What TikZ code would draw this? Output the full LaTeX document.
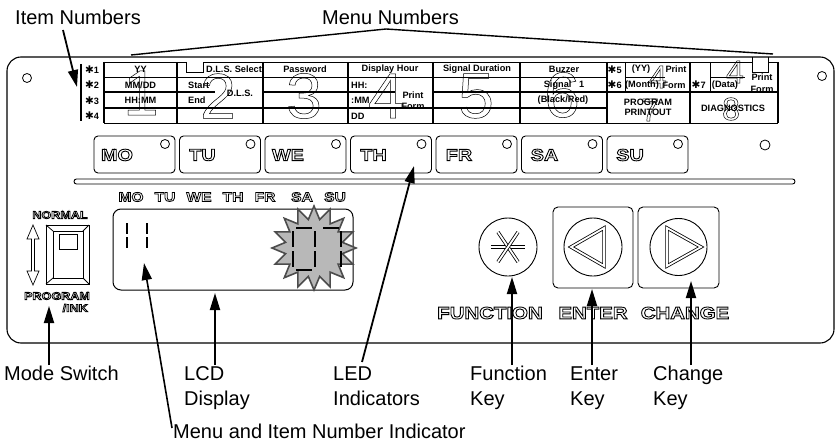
\documentclass[tikz,border=0pt]{standalone}
\usepackage{fontspec}
\setmainfont{Liberation Sans}
\newfontfamily\dejavu{DejaVu Sans}
\newfontfamily\widefont[FakeStretch=1.2]{Liberation Sans}
\newcommand\hollowtext[2]{\special{pdf:literal direct 1 Tr #1 w}#2\special{pdf:literal direct 0 Tr}}
\usetikzlibrary{arrows.meta}
\begin{document}
\begin{tikzpicture}[x=1pt,y=-1pt,
  every node/.style={inner sep=0pt},
  lab/.style={font=\fontsize{20}{24}\selectfont, anchor=base west},
  cell/.style={font=\bfseries\fontsize{9.2}{10.5}\selectfont, align=center},
  gthin/.style={line width=0.8pt},
  gthick/.style={line width=1.6pt},
  callout/.style={line width=1.8pt, -{Triangle[length=17pt,width=10pt]}},
  dayt/.style={font=\widefont\bfseries\fontsize{16.5}{16.5}\selectfont},
  lcdt/.style={font=\widefont\bfseries\fontsize{13}{13}\selectfont},
  swt/.style={font=\widefont\bfseries\fontsize{10.5}{11}\selectfont},
  keyt/.style={font=\widefont\bfseries\fontsize{17}{17}\selectfont},
  bigd/.style={font=\fontsize{64}{64}\selectfont},
  smalld/.style={font=\fontsize{32}{32}\selectfont},
  seg/.style={line width=2.3pt},
  dbl/.style={double=white, double distance=1.8pt, line width=0.8pt}
]
\useasboundingbox (0,0) rectangle (840,444);

% panel
\draw[line width=1.1pt, rounded corners=14pt] (7,57) rectangle (834,343);
\draw[line width=0.8pt] (27,78) circle (4.5);
\draw[line width=0.8pt] (822,76) circle (4.5);
\draw[line width=0.8pt] (765,145) circle (5);

% titles and bracket
\node[lab] (itemlab) at (15,25) {Item Numbers};
\node[lab] (menulab) at (322,25) {Menu Numbers};
\coordinate (brL) at (131,55);
\coordinate (brA) at (386,29);
\coordinate (brR) at (773,54);
\draw[line width=1.4pt] (brL) -- (brA) -- (brR);
\coordinate (itemstart) at (63,30);
\coordinate (itemtip) at (77,87);
\draw[callout] (itemstart) -- (itemtip);
\draw[line width=2.6pt] (81,64) -- (81,121);

% grid
\draw[gthin] (104,62) -- (186,62) (203,62) -- (752,62) (768,62) -- (778,62);
\draw[gthin] (186,62) -- (186,72) -- (203,72) -- (203,62);
\draw[gthin] (752,57) -- (752,72) -- (768,72) -- (768,57);
\foreach \x in {104,177,263,348,433,520,607,690,778}
  \draw[gthick] (\x,62) -- (\x,123);
\draw[gthin] (625,62) -- (625,92) (710,62) -- (710,92);
\draw[gthin] (104,77) -- (607,77);
\draw[gthick] (104,92) -- (215,92) (263,92) -- (395,92) (433,92) -- (778,92);
\draw[gthick] (104,108) -- (607,108);
\draw[gthin] (104,123) -- (778,123);
\draw[gthin] (625,77) -- (665,77) (710,77) -- (745,77);

% item labels
\foreach \k/\y in {1/69.5,2/85,3/100.5,4/116}
  \node[cell, anchor=west] (it\k) at (85,\y) {{\dejavu\fontsize{10.5}{10.5}\selectfont ✱}\k};
\node[cell, anchor=west] (it5) at (607.5,69.5) {{\dejavu\fontsize{10.5}{10.5}\selectfont ✱}5};
\node[cell, anchor=west] (it6) at (607.5,85) {{\dejavu\fontsize{10.5}{10.5}\selectfont ✱}6};
\node[cell, anchor=west] (it7) at (691.5,85) {{\dejavu\fontsize{10.5}{10.5}\selectfont ✱}7};

% cell texts
\node[cell] (c11) at (140.5,69.5) {YY};
\node[cell] (c12) at (140.5,85) {MM/DD};
\node[cell] (c13) at (140.5,100.5) {HH:MM};
\node[cell] (c21) at (234,69.5) {D.L.S. Select};
\node[cell, anchor=west] (c22) at (188,85) {Start};
\node[cell, anchor=west] (c23) at (188,100.5) {End};
\node[cell] (c2r) at (240,93) {D.L.S.};
\node[cell] (c31) at (305,69.5) {Password};
\node[cell] (c41) at (390,69.5) {Display Hour};
\node[cell, anchor=west] (c42) at (351,85) {HH:};
\node[cell, anchor=west] (c43) at (351,100.5) {:MM};
\node[cell, anchor=west] (c44) at (351,116) {DD};
\node[cell] (c4r) at (413,100.5) {Print\\Form};
\node[cell] (c51) at (477,69.5) {Signal Duration};
\node[cell] (c61) at (564,69.5) {Buzzer};
\node[cell] (c62) at (564,85) {Signal\ \ \ 1};
\node[cell] (c63) at (563,100.5) {(Black/Red)};
\node[cell] (ca1) at (641,69.5) {(YY)};
\node[cell] (ca2) at (642,85) {(Month)};
\node[cell] (ca3) at (676,69.5) {Print};
\node[cell] (ca4) at (674,85) {Form};
\node[cell] (cb1) at (725,85) {(Data)};
\node[cell] (cb2) at (762,77) {Print};
\node[cell] (cb3) at (762,89) {Form};
\node[cell] (cpp) at (648,107.5) {PROGRAM\\PRINTOUT};
\node[cell] (cdg) at (733,108) {DIAGNOSTICS};

% big menu digits (hollow, on top)
\node[bigd] (d1) at (141,93) {\hollowtext{0.5}{1}};
\node[bigd] (d2) at (218,96) {\hollowtext{0.5}{2}};
\node[bigd] (d3) at (304,96) {\hollowtext{0.5}{3}};
\node[bigd] (d4) at (386,96) {\hollowtext{0.5}{4}};
\node[bigd] (d5) at (476,96) {\hollowtext{0.5}{5}};
\node[bigd] (d6) at (562,95) {\hollowtext{0.5}{6}};
\node[smalld] (d4a) at (658,77) {\hollowtext{0.5}{4}};
\node[smalld] (d4b) at (735,72) {\hollowtext{0.5}{4}};
\node[smalld] (d7) at (650,110) {\hollowtext{0.5}{7}};
\node[smalld] (d8) at (731,109) {\hollowtext{0.5}{8}};

% day buttons
\foreach \d [count=\i from 0] in {MO,TU,WE,TH,FR,SA,SU} {
  \pgfmathsetmacro\bx{94+85.5*\i}
  \draw[line width=0.9pt, rounded corners=4pt] (\bx,136) rectangle ++(81,37);
  \draw[line width=0.8pt] (\bx+71,144) circle (4.5);
  \node[dayt] (day\i) at (\bx+23,155) {\hollowtext{0.9}{\d}};
}
\coordinate (ledtip) at (414,166);

% separator bar
\draw[line width=0.9pt, rounded corners=2.5pt] (74,179) rectangle (795,184);

% LCD labels
\foreach \d/\x in {MO/131,TU/165,WE/199,TH/233,FR/265,SA/302,SU/335}
  \node[lcdt] (lcd\d) at (\x,197) {\hollowtext{0.8}{\d}};

% LCD
\draw[line width=1pt, rounded corners=8pt] (113,209) rectangle (353,290);
\draw[seg] (127,223) -- (127,234) (127,237) -- (127,248);
\draw[seg] (147,223) -- (147,234) (147,237) -- (147,248);
\begin{scope}[shift={(314,248)}]
\draw[fill=black!28, draw=black!70, line width=1.6pt] (0:42)
  \foreach \a in {0,22.5,...,337.5} { -- (\a:42) -- (\a+11.25:29) } -- cycle;
\end{scope}
\draw[seg] (296,228) -- (312,228) (296,270) -- (312,270)
  (293,231) -- (293,247) (293,251) -- (293,267)
  (315,231) -- (315,247) (315,251) -- (315,267);
\draw[seg] (323,228) -- (339,228) (341,231) -- (341,247) (341,251) -- (341,267);

% mode switch
\node[swt] (normal) at (60,215) {\hollowtext{0.8}{NORMAL}};
\node[swt] (program) at (57,296) {\hollowtext{0.8}{PROGRAM}};
\node[swt, anchor=east] (ink) at (88,308) {\hollowtext{0.8}{/INK}};
\draw[line width=0.9pt] (46,225) rectangle (89,284);
\draw[line width=0.8pt] (53,231) rectangle (83,278);
\draw[line width=0.8pt] (46,225) -- (53,231) (89,225) -- (83,231) (46,284) -- (53,278) (89,284) -- (83,278);
\draw[line width=0.8pt] (59,234) rectangle (77,249);
\draw[line width=0.7pt] (33,225) -- (27,239) -- (31.5,239) -- (31.5,271) -- (27,271) -- (33,285)
  -- (39,271) -- (34.5,271) -- (34.5,239) -- (39,239) -- cycle;

% keys
\draw[line width=0.9pt] (508,247) circle (29);
\draw[dbl] (491,247) -- (525,247);
\draw[dbl] (508,247) ++(56:18) -- ++(236:36);
\draw[dbl] (508,247) ++(124:18) -- ++(304:36);
\draw[line width=0.9pt, rounded corners=5pt] (553,207) rectangle (633,288);
\draw[line width=0.9pt] (593,247) circle (29);
\draw[dbl] (571,247) -- (604,228) -- (604,266) -- cycle;
\draw[line width=0.9pt, rounded corners=5pt] (638,207) rectangle (719,288);
\draw[line width=0.9pt] (678.5,247) circle (28.5);
\draw[dbl] (701,247) -- (667,228) -- (667,266) -- cycle;
\node[keyt] (fn) at (490,313) {\hollowtext{0.9}{FUNCTION}};
\node[keyt] (en) at (593,313) {\hollowtext{0.9}{ENTER}};
\node[keyt] (ch) at (685,313) {\hollowtext{0.9}{CHANGE}};

% bottom labels
\node[lab] (modelab) at (4,380) {Mode Switch};
\node[lab] (lcdlab) at (184,380) {LCD};
\node[lab] (lcdlab2) at (184,405) {Display};
\node[lab] (ledlab) at (333,380) {LED};
\node[lab] (ledlab2) at (333,405) {Indicators};
\node[lab] (fnlab) at (470,380) {Function};
\node[lab] (fnlab2) at (470,405) {Key};
\node[lab] (enlab) at (570,380) {Enter};
\node[lab] (enlab2) at (570,405) {Key};
\node[lab] (chlab) at (653,380) {Change};
\node[lab] (chlab2) at (653,405) {Key};
\node[lab] (menuind) at (173,438) {Menu and Item Number Indicator};

% callouts
\coordinate (modebot) at (49,365);  \coordinate (modetip) at (49,306);
\coordinate (lcdbot) at (215,365);  \coordinate (lcdtip) at (215,293);
\coordinate (ledbot) at (362,362);
\coordinate (fnbot) at (512,365);   \coordinate (fntip) at (512,277);
\coordinate (enbot) at (592,365);   \coordinate (entip) at (592,289);
\coordinate (chbot) at (691,365);   \coordinate (chtip) at (691,281);
\coordinate (indbot) at (172,428);  \coordinate (indtip) at (144,263);
\draw[callout] (modebot) -- (modetip);
\draw[callout] (lcdbot) -- (lcdtip);
\draw[callout] (ledbot) -- (ledtip);
\draw[callout] (fnbot) -- (fntip);
\draw[callout] (enbot) -- (entip);
\draw[callout] (chbot) -- (chtip);
\draw[line width=1.6pt, -{Triangle[length=17pt,width=10pt]}] (indbot) -- (indtip);
\end{tikzpicture}
\end{document}
